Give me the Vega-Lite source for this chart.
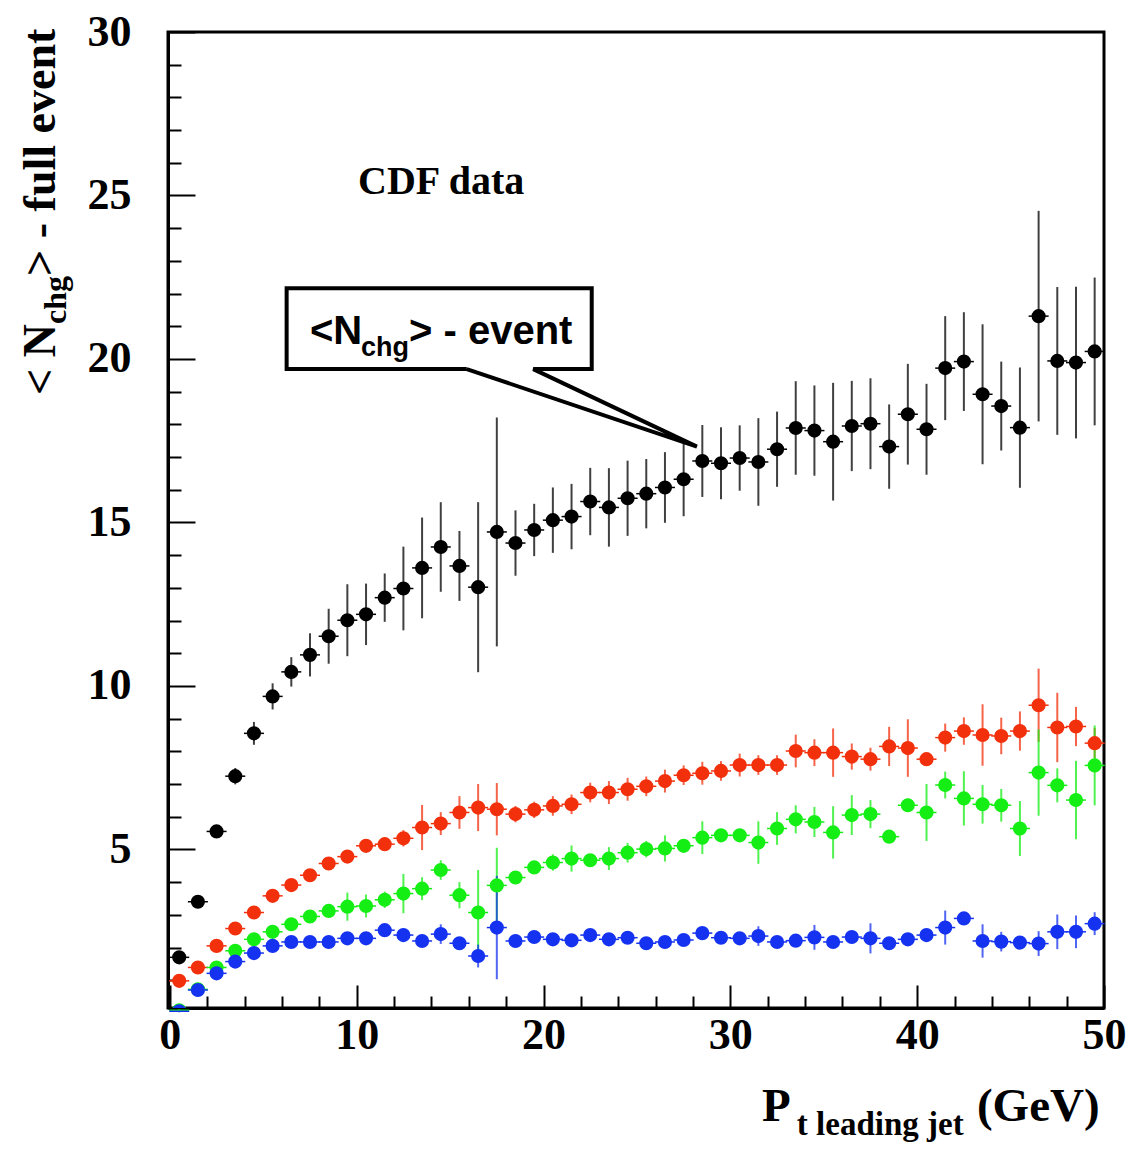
{
  "$schema": "https://vega.github.io/schema/vega-lite/v6.json",
  "width": 936,
  "height": 976,
  "autosize": {"type": "none"},
  "padding": {"left": 168, "top": 32, "right": 31, "bottom": 141},
  "background": "white",
  "config": {"view": {"stroke": "black", "strokeWidth": 3}},
  "datasets": {
    "pts": [
      {"s":"k","x":0.5,"y":1.70,"e":0.12},{"s":"k","x":1.5,"y":3.40,"e":0.12},{"s":"k","x":2.5,"y":5.55,"e":0.15},{"s":"k","x":3.5,"y":7.24,"e":0.25},{"s":"k","x":4.5,"y":8.55,"e":0.35},
      {"s":"k","x":5.5,"y":9.68,"e":0.4},{"s":"k","x":6.5,"y":10.43,"e":0.45},{"s":"k","x":7.5,"y":10.95,"e":0.66},{"s":"k","x":8.5,"y":11.52,"e":0.84},{"s":"k","x":9.5,"y":12.01,"e":1.1},
      {"s":"k","x":10.5,"y":12.19,"e":0.94},{"s":"k","x":11.5,"y":12.70,"e":0.74},{"s":"k","x":12.5,"y":12.98,"e":1.28},{"s":"k","x":13.5,"y":13.61,"e":1.54},{"s":"k","x":14.5,"y":14.25,"e":1.37},
      {"s":"k","x":15.5,"y":13.67,"e":1.07},{"s":"k","x":16.5,"y":13.02,"e":2.6},{"s":"k","x":17.5,"y":14.71,"e":3.5},{"s":"k","x":18.5,"y":14.37,"e":1.0},{"s":"k","x":19.5,"y":14.77,"e":0.8},
      {"s":"k","x":20.5,"y":15.07,"e":1.0},{"s":"k","x":21.5,"y":15.18,"e":1.0},{"s":"k","x":22.5,"y":15.64,"e":1.03},{"s":"k","x":23.5,"y":15.46,"e":1.2},{"s":"k","x":24.5,"y":15.74,"e":1.15},
      {"s":"k","x":25.5,"y":15.88,"e":1.06},{"s":"k","x":26.5,"y":16.07,"e":1.08},{"s":"k","x":27.5,"y":16.32,"e":1.13},{"s":"k","x":28.5,"y":16.88,"e":1.1},{"s":"k","x":29.5,"y":16.81,"e":1.1},
      {"s":"k","x":30.5,"y":16.97,"e":1.0},{"s":"k","x":31.5,"y":16.85,"e":1.34},{"s":"k","x":32.5,"y":17.24,"e":1.15},{"s":"k","x":33.5,"y":17.89,"e":1.43},{"s":"k","x":34.5,"y":17.81,"e":1.38},
      {"s":"k","x":35.5,"y":17.47,"e":1.8},{"s":"k","x":36.5,"y":17.95,"e":1.38},{"s":"k","x":37.5,"y":18.02,"e":1.39},{"s":"k","x":38.5,"y":17.32,"e":1.29},{"s":"k","x":39.5,"y":18.31,"e":1.54},
      {"s":"k","x":40.5,"y":17.85,"e":1.39},{"s":"k","x":41.5,"y":19.72,"e":1.59},{"s":"k","x":42.5,"y":19.92,"e":1.51},{"s":"k","x":43.5,"y":18.92,"e":2.14},{"s":"k","x":44.5,"y":18.56,"e":1.36},
      {"s":"k","x":45.5,"y":17.90,"e":1.84},{"s":"k","x":46.5,"y":21.31,"e":3.22},{"s":"k","x":47.5,"y":19.94,"e":2.26},{"s":"k","x":48.5,"y":19.89,"e":2.32},{"s":"k","x":49.5,"y":20.23,"e":2.26},

      {"s":"r","x":0.5,"y":0.98,"e":0.05},{"s":"r","x":1.5,"y":1.39,"e":0.05},{"s":"r","x":2.5,"y":2.05,"e":0.08},{"s":"r","x":3.5,"y":2.58,"e":0.08},{"s":"r","x":4.5,"y":3.07,"e":0.1},
      {"s":"r","x":5.5,"y":3.58,"e":0.1},{"s":"r","x":6.5,"y":3.91,"e":0.12},{"s":"r","x":7.5,"y":4.21,"e":0.12},{"s":"r","x":8.5,"y":4.57,"e":0.15},{"s":"r","x":9.5,"y":4.78,"e":0.15},
      {"s":"r","x":10.5,"y":5.11,"e":0.15},{"s":"r","x":11.5,"y":5.16,"e":0.2},{"s":"r","x":12.5,"y":5.34,"e":0.25},{"s":"r","x":13.5,"y":5.67,"e":0.69},{"s":"r","x":14.5,"y":5.79,"e":0.35},
      {"s":"r","x":15.5,"y":6.13,"e":0.5},{"s":"r","x":16.5,"y":6.28,"e":0.72},{"s":"r","x":17.5,"y":6.23,"e":0.8},{"s":"r","x":18.5,"y":6.08,"e":0.25},{"s":"r","x":19.5,"y":6.21,"e":0.25},
      {"s":"r","x":20.5,"y":6.33,"e":0.3},{"s":"r","x":21.5,"y":6.38,"e":0.3},{"s":"r","x":22.5,"y":6.74,"e":0.3},{"s":"r","x":23.5,"y":6.74,"e":0.35},{"s":"r","x":24.5,"y":6.84,"e":0.35},
      {"s":"r","x":25.5,"y":6.93,"e":0.3},{"s":"r","x":26.5,"y":7.09,"e":0.35},{"s":"r","x":27.5,"y":7.27,"e":0.3},{"s":"r","x":28.5,"y":7.33,"e":0.35},{"s":"r","x":29.5,"y":7.40,"e":0.3},
      {"s":"r","x":30.5,"y":7.58,"e":0.35},{"s":"r","x":31.5,"y":7.58,"e":0.3},{"s":"r","x":32.5,"y":7.58,"e":0.3},{"s":"r","x":33.5,"y":8.01,"e":0.5},{"s":"r","x":34.5,"y":7.96,"e":0.41},
      {"s":"r","x":35.5,"y":7.96,"e":0.74},{"s":"r","x":36.5,"y":7.84,"e":0.4},{"s":"r","x":37.5,"y":7.76,"e":0.35},{"s":"r","x":38.5,"y":8.15,"e":0.6},{"s":"r","x":39.5,"y":8.10,"e":0.88},
      {"s":"r","x":40.5,"y":7.76,"e":0.05},{"s":"r","x":41.5,"y":8.42,"e":0.43},{"s":"r","x":42.5,"y":8.62,"e":0.42},{"s":"r","x":43.5,"y":8.50,"e":0.94},{"s":"r","x":44.5,"y":8.47,"e":0.56},
      {"s":"r","x":45.5,"y":8.62,"e":0.6},{"s":"r","x":46.5,"y":9.41,"e":1.12},{"s":"r","x":47.5,"y":8.73,"e":1.06},{"s":"r","x":48.5,"y":8.76,"e":0.6},{"s":"r","x":49.5,"y":8.25,"e":0.46},

      {"s":"g","x":0.5,"y":0.08,"e":0.03},{"s":"g","x":1.5,"y":0.72,"e":0.05},{"s":"g","x":2.5,"y":1.39,"e":0.06},{"s":"g","x":3.5,"y":1.90,"e":0.08},{"s":"g","x":4.5,"y":2.25,"e":0.1},
      {"s":"g","x":5.5,"y":2.48,"e":0.1},{"s":"g","x":6.5,"y":2.71,"e":0.12},{"s":"g","x":7.5,"y":2.95,"e":0.15},{"s":"g","x":8.5,"y":3.12,"e":0.2},{"s":"g","x":9.5,"y":3.25,"e":0.43},
      {"s":"g","x":10.5,"y":3.27,"e":0.35},{"s":"g","x":11.5,"y":3.46,"e":0.25},{"s":"g","x":12.5,"y":3.65,"e":0.6},{"s":"g","x":13.5,"y":3.80,"e":0.35},{"s":"g","x":14.5,"y":4.37,"e":0.3},
      {"s":"g","x":15.5,"y":3.60,"e":0.4},{"s":"g","x":16.5,"y":3.07,"e":1.3},{"s":"g","x":17.5,"y":3.90,"e":1.15},{"s":"g","x":18.5,"y":4.14,"e":0.2},{"s":"g","x":19.5,"y":4.45,"e":0.15},
      {"s":"g","x":20.5,"y":4.60,"e":0.25},{"s":"g","x":21.5,"y":4.72,"e":0.4},{"s":"g","x":22.5,"y":4.67,"e":0.15},{"s":"g","x":23.5,"y":4.72,"e":0.35},{"s":"g","x":24.5,"y":4.90,"e":0.3},
      {"s":"g","x":25.5,"y":5.01,"e":0.25},{"s":"g","x":26.5,"y":5.03,"e":0.4},{"s":"g","x":27.5,"y":5.11,"e":0.15},{"s":"g","x":28.5,"y":5.36,"e":0.5},{"s":"g","x":29.5,"y":5.43,"e":0.2},
      {"s":"g","x":30.5,"y":5.43,"e":0.15},{"s":"g","x":31.5,"y":5.21,"e":0.65},{"s":"g","x":32.5,"y":5.64,"e":0.5},{"s":"g","x":33.5,"y":5.92,"e":0.43},{"s":"g","x":34.5,"y":5.84,"e":0.46},
      {"s":"g","x":35.5,"y":5.52,"e":0.8},{"s":"g","x":36.5,"y":6.05,"e":0.61},{"s":"g","x":37.5,"y":6.08,"e":0.43},{"s":"g","x":38.5,"y":5.39,"e":0.05},{"s":"g","x":39.5,"y":6.35,"e":0.2},
      {"s":"g","x":40.5,"y":6.13,"e":0.87},{"s":"g","x":41.5,"y":6.97,"e":0.41},{"s":"g","x":42.5,"y":6.56,"e":0.83},{"s":"g","x":43.5,"y":6.38,"e":0.59},{"s":"g","x":44.5,"y":6.35,"e":0.5},
      {"s":"g","x":45.5,"y":5.64,"e":0.84},{"s":"g","x":46.5,"y":7.35,"e":1.32},{"s":"g","x":47.5,"y":6.96,"e":0.52},{"s":"g","x":48.5,"y":6.51,"e":1.2},{"s":"g","x":49.5,"y":7.57,"e":1.22},

      {"s":"b","x":0.5,"y":0.05,"e":0.03},{"s":"b","x":1.5,"y":0.70,"e":0.05},{"s":"b","x":2.5,"y":1.21,"e":0.05},{"s":"b","x":3.5,"y":1.57,"e":0.06},{"s":"b","x":4.5,"y":1.83,"e":0.06},
      {"s":"b","x":5.5,"y":2.05,"e":0.08},{"s":"b","x":6.5,"y":2.17,"e":0.08},{"s":"b","x":7.5,"y":2.17,"e":0.08},{"s":"b","x":8.5,"y":2.17,"e":0.1},{"s":"b","x":9.5,"y":2.28,"e":0.1},
      {"s":"b","x":10.5,"y":2.28,"e":0.1},{"s":"b","x":11.5,"y":2.53,"e":0.1},{"s":"b","x":12.5,"y":2.38,"e":0.2},{"s":"b","x":13.5,"y":2.20,"e":0.15},{"s":"b","x":14.5,"y":2.41,"e":0.3},
      {"s":"b","x":15.5,"y":2.13,"e":0.15},{"s":"b","x":16.5,"y":1.74,"e":0.35},{"s":"b","x":17.5,"y":2.61,"e":1.58},{"s":"b","x":18.5,"y":2.20,"e":0.1},{"s":"b","x":19.5,"y":2.32,"e":0.1},
      {"s":"b","x":20.5,"y":2.25,"e":0.1},{"s":"b","x":21.5,"y":2.22,"e":0.1},{"s":"b","x":22.5,"y":2.38,"e":0.1},{"s":"b","x":23.5,"y":2.25,"e":0.1},{"s":"b","x":24.5,"y":2.30,"e":0.1},
      {"s":"b","x":25.5,"y":2.13,"e":0.1},{"s":"b","x":26.5,"y":2.17,"e":0.1},{"s":"b","x":27.5,"y":2.23,"e":0.1},{"s":"b","x":28.5,"y":2.44,"e":0.1},{"s":"b","x":29.5,"y":2.30,"e":0.1},
      {"s":"b","x":30.5,"y":2.28,"e":0.1},{"s":"b","x":31.5,"y":2.35,"e":0.3},{"s":"b","x":32.5,"y":2.17,"e":0.1},{"s":"b","x":33.5,"y":2.21,"e":0.1},{"s":"b","x":34.5,"y":2.31,"e":0.38},
      {"s":"b","x":35.5,"y":2.17,"e":0.1},{"s":"b","x":36.5,"y":2.32,"e":0.15},{"s":"b","x":37.5,"y":2.28,"e":0.46},{"s":"b","x":38.5,"y":2.13,"e":0.1},{"s":"b","x":39.5,"y":2.25,"e":0.1},
      {"s":"b","x":40.5,"y":2.38,"e":0.1},{"s":"b","x":41.5,"y":2.61,"e":0.52},{"s":"b","x":42.5,"y":2.89,"e":0.1},{"s":"b","x":43.5,"y":2.20,"e":0.51},{"s":"b","x":44.5,"y":2.18,"e":0.3},
      {"s":"b","x":45.5,"y":2.15,"e":0.1},{"s":"b","x":46.5,"y":2.12,"e":0.38},{"s":"b","x":47.5,"y":2.48,"e":0.53},{"s":"b","x":48.5,"y":2.48,"e":0.5},{"s":"b","x":49.5,"y":2.73,"e":0.35}
    ],
    "callout": [
      {"o":0,"x":15.89,"y":19.69},{"o":1,"x":6.25,"y":19.69},{"o":2,"x":6.25,"y":22.16},{"o":3,"x":22.58,"y":22.16},
      {"o":4,"x":22.58,"y":19.69},{"o":5,"x":19.45,"y":19.69},{"o":6,"x":28.21,"y":17.32},{"o":7,"x":15.89,"y":19.69}
    ],
    "notes": [
      {"id":"cdf","t":"CDF data","x":10.07,"y":25.04},
      {"id":"box","t":"<N","x":7.50,"y":20.45},
      {"id":"boxsub","t":"chg","x":10.23,"y":20.08},
      {"id":"box","t":"> - event","x":12.80,"y":20.45},
      {"id":"xt","t":"P","x":31.69,"y":-3.30},
      {"id":"xtsub","t":"t leading jet","x":33.56,"y":-3.72},
      {"id":"xt","t":"(GeV)","x":43.2,"y":-3.30},
      {"id":"yt","t":"< N","x":-6.15,"y":18.90},
      {"id":"ytsub","t":"chg","x":-5.56,"y":21.07},
      {"id":"yt","t":" > - full event","x":-6.15,"y":22.54}
    ]
  },
  "layer": [
    {
      "data": {"name": "pts"},
      "mark": {"type": "errorbar", "thickness": 2, "opacity": 0.75},
      "encoding": {
        "x": {"field": "x", "type": "quantitative",
          "scale": {"domain": [-0.1, 50], "nice": false, "zero": false},
          "axis": {
            "title": null, "grid": false, "tickCount": 200, "format": "d",
            "values": [0,2,4,6,8,10,12,14,16,18,20,22,24,26,28,30,32,34,36,38,40,42,44,46,48,50],
            "tickSize": {"condition": {"test": "datum.value % 10 === 0", "value": -23}, "value": -12},
            "tickWidth": 2, "tickColor": "black",
            "domainColor": "black", "domainWidth": 3,
            "labelExpr": "datum.value % 10 === 0 ? datum.label : ''",
            "labelFont": "Liberation Serif", "labelFontWeight": "bold", "labelFontSize": 44, "labelColor": "black",
            "labelPadding": 28, "labelOverlap": false, "labelBound": false, "labelFlush": false
          }},
        "y": {"field": "y", "type": "quantitative",
          "scale": {"domain": [0.15, 30], "nice": false, "zero": false},
          "axis": {
            "title": null, "grid": false, "tickCount": 200, "format": "d",
            "values": [1,2,3,4,5,6,7,8,9,10,11,12,13,14,15,16,17,18,19,20,21,22,23,24,25,26,27,28,29,30],
            "tickSize": {"condition": {"test": "datum.value % 5 === 0", "value": -27}, "value": -13},
            "tickWidth": 2, "tickColor": "black",
            "domainColor": "black", "domainWidth": 3,
            "labelExpr": "datum.value % 5 === 0 ? datum.label : ''",
            "labelFont": "Liberation Serif", "labelFontWeight": "bold", "labelFontSize": 44, "labelColor": "black",
            "labelPadding": 64, "labelOverlap": false, "labelBound": false, "labelFlush": false
          }},
        "yError": {"field": "e"},
        "color": {"field": "s", "type": "nominal", "legend": null,
          "scale": {"domain": ["k","r","g","b"], "range": ["#000000","#f2300c","#14ee14","#1432f0"]}}
      }
    },
    {
      "data": {"name": "pts"},
      "mark": {"type": "tick", "orient": "horizontal", "size": 20, "thickness": 1.5, "opacity": 1},
      "encoding": {
        "x": {"field": "x", "type": "quantitative"},
        "y": {"field": "y", "type": "quantitative"},
        "color": {"field": "s", "type": "nominal", "legend": null}
      }
    },
    {
      "data": {"name": "pts"},
      "mark": {"type": "circle", "size": 200, "opacity": 1, "clip": true},
      "encoding": {
        "x": {"field": "x", "type": "quantitative"},
        "y": {"field": "y", "type": "quantitative"},
        "color": {"field": "s", "type": "nominal", "legend": null}
      }
    },
    {
      "data": {"name": "callout"},
      "mark": {"type": "line", "color": "black", "strokeWidth": 4, "strokeJoin": "miter"},
      "encoding": {
        "x": {"field": "x", "type": "quantitative"},
        "y": {"field": "y", "type": "quantitative"},
        "order": {"field": "o", "type": "quantitative"}
      }
    },
    {
      "data": {"name": "notes"},
      "transform": [{"filter": "datum.id === 'cdf'"}],
      "mark": {"type": "text", "align": "left", "baseline": "alphabetic", "font": "Liberation Serif", "fontWeight": "bold", "fontSize": 40, "color": "black"},
      "encoding": {"x": {"field": "x", "type": "quantitative"}, "y": {"field": "y", "type": "quantitative"}, "text": {"field": "t"}}
    },
    {
      "data": {"name": "notes"},
      "transform": [{"filter": "datum.id === 'box'"}],
      "mark": {"type": "text", "align": "left", "baseline": "alphabetic", "font": "Liberation Sans", "fontWeight": "bold", "fontSize": 40, "color": "black"},
      "encoding": {"x": {"field": "x", "type": "quantitative"}, "y": {"field": "y", "type": "quantitative"}, "text": {"field": "t"}}
    },
    {
      "data": {"name": "notes"},
      "transform": [{"filter": "datum.id === 'boxsub'"}],
      "mark": {"type": "text", "align": "left", "baseline": "alphabetic", "font": "Liberation Sans", "fontWeight": "bold", "fontSize": 27, "color": "black"},
      "encoding": {"x": {"field": "x", "type": "quantitative"}, "y": {"field": "y", "type": "quantitative"}, "text": {"field": "t"}}
    },
    {
      "data": {"name": "notes"},
      "transform": [{"filter": "datum.id === 'xt'"}],
      "mark": {"type": "text", "align": "left", "baseline": "alphabetic", "font": "Liberation Serif", "fontWeight": "bold", "fontSize": 47, "color": "black"},
      "encoding": {"x": {"field": "x", "type": "quantitative"}, "y": {"field": "y", "type": "quantitative"}, "text": {"field": "t"}}
    },
    {
      "data": {"name": "notes"},
      "transform": [{"filter": "datum.id === 'xtsub'"}],
      "mark": {"type": "text", "align": "left", "baseline": "alphabetic", "font": "Liberation Serif", "fontWeight": "bold", "fontSize": 33, "color": "black"},
      "encoding": {"x": {"field": "x", "type": "quantitative"}, "y": {"field": "y", "type": "quantitative"}, "text": {"field": "t"}}
    },
    {
      "data": {"name": "notes"},
      "transform": [{"filter": "datum.id === 'yt'"}],
      "mark": {"type": "text", "align": "left", "baseline": "alphabetic", "angle": 270, "font": "Liberation Serif", "fontWeight": "bold", "fontSize": 46, "color": "black"},
      "encoding": {"x": {"field": "x", "type": "quantitative"}, "y": {"field": "y", "type": "quantitative"}, "text": {"field": "t"}}
    },
    {
      "data": {"name": "notes"},
      "transform": [{"filter": "datum.id === 'ytsub'"}],
      "mark": {"type": "text", "align": "left", "baseline": "alphabetic", "angle": 270, "font": "Liberation Serif", "fontWeight": "bold", "fontSize": 32, "color": "black"},
      "encoding": {"x": {"field": "x", "type": "quantitative"}, "y": {"field": "y", "type": "quantitative"}, "text": {"field": "t"}}
    }
  ]
}
